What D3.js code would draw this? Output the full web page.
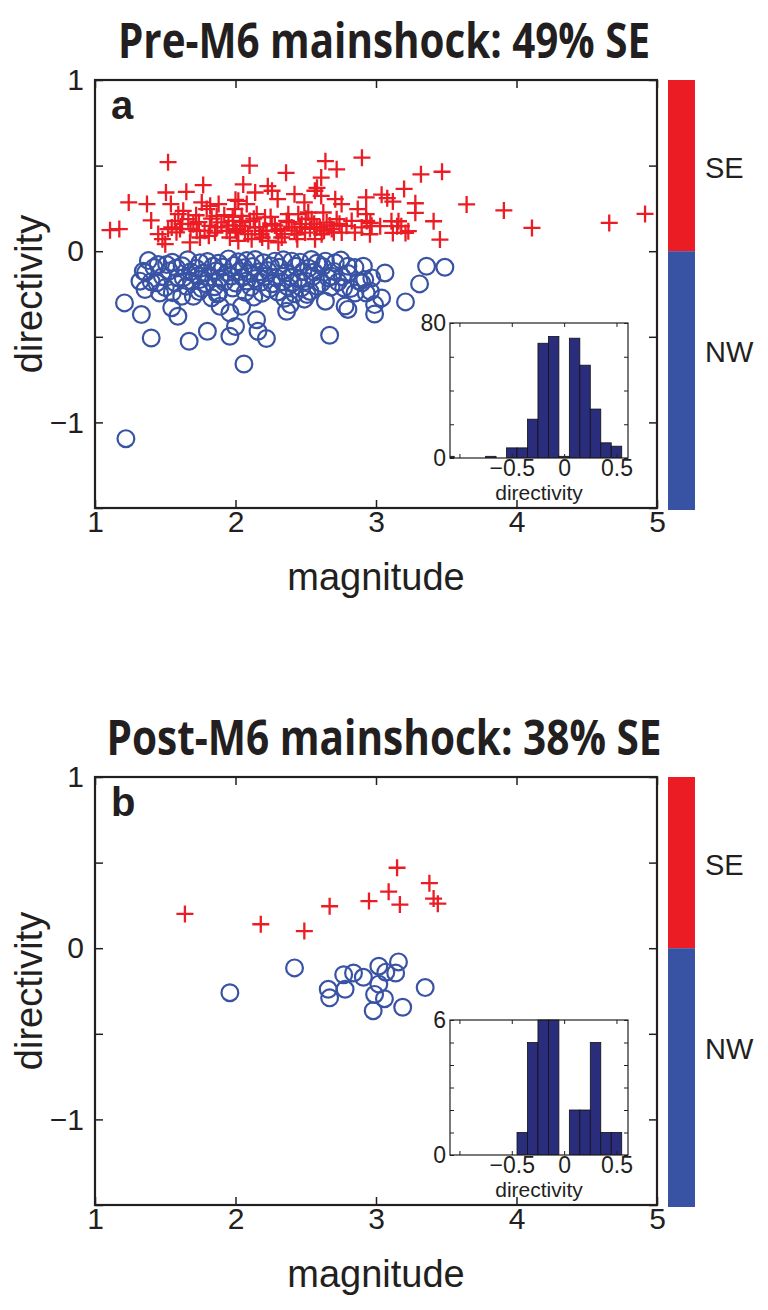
<!DOCTYPE html>
<html><head><meta charset="utf-8">
<script src="https://cdn.jsdelivr.net/npm/d3@7/dist/d3.min.js"></script>
<style>body{margin:0;background:#fff}svg{display:block}</style>
</head><body>
<svg id="chart" width="768" height="1310"></svg>
<script>
// ---------- data (magnitude, directivity) ----------
const preSE = [
[1.107,0.123],[1.173,0.129],[1.52,0.52],[1.24,0.285],[1.37,0.275],[1.40,0.18],[1.505,0.343],[1.54,0.275],[1.65,0.347],[1.77,0.386],
[1.45,0.10],[1.48,0.07],[1.82,0.265],[1.88,0.275],[2.0,0.30],[1.76,0.285],[2.10,0.50],[2.36,0.458],[2.055,0.39],[2.23,0.38],
[2.64,0.526],[2.72,0.478],[2.61,0.43],[2.58,0.37],[2.90,0.546],[2.14,0.343],[2.26,0.353],[2.42,0.333],[2.565,0.353],[2.61,0.323],
[2.71,0.304],[2.93,0.314],[2.02,0.294],[2.08,0.275],[2.30,0.304],[2.49,0.285],[2.755,0.275],[2.87,0.246],[2.93,0.216],[3.32,0.449],
[3.47,0.464],[3.20,0.364],[3.04,0.33],[3.08,0.31],[3.12,0.29],[3.28,0.28],[3.28,0.224],[3.645,0.273],[3.41,0.175],[3.455,0.068],
[2.96,0.165],[3.03,0.146],[3.11,0.175],[3.15,0.146],[3.12,0.107],[3.18,0.146],[3.21,0.107],[3.23,0.117],[3.16,0.175],[3.91,0.238],
[4.11,0.136],[4.66,0.165],[4.915,0.218],
[1.593,0.216],[1.628,0.236],[1.569,0.177],[1.546,0.139],[1.605,0.129],[1.664,0.187],[1.70,0.158],[1.724,0.119],[1.747,0.080],[1.676,0.051],
[1.795,0.246],[1.818,0.148],[1.866,0.206],[1.854,0.109],[1.90,0.168],[1.937,0.119],[1.96,0.08],[1.984,0.177],[1.996,0.246],[2.01,0.109],
[1.52,0.129],[1.50,0.041],
[2.044,0.206],[2.103,0.177],[2.139,0.139],[2.174,0.099],[2.068,0.119],[2.115,0.070],[2.21,0.197],[2.258,0.158],[2.293,0.119],[2.329,0.080],
[2.305,0.051],[2.364,0.177],[2.40,0.139],[2.435,0.099],[2.471,0.158],[2.495,0.109],[2.542,0.187],[2.578,0.139],[2.613,0.099],[2.649,0.168],
[2.685,0.129],[2.72,0.187],[2.756,0.109],[2.79,0.148],[2.827,0.177],[2.85,0.109],[2.898,0.139],[2.934,0.177],[2.957,0.099],[2.969,0.148],
[2.198,0.119],[2.234,0.060],[2.376,0.216],[2.518,0.226],[2.625,0.226],[2.032,0.148],[2.151,0.216],[2.447,0.216],[2.566,0.070],
[1.62,0.16],[1.68,0.13],[1.74,0.17],[1.78,0.12],[1.83,0.19],[1.87,0.14],[1.92,0.21],[1.95,0.15],[2.00,0.13],[2.05,0.17],
[2.09,0.10],[2.13,0.19],[2.17,0.14],[2.22,0.12],[2.25,0.20],[2.28,0.15],[2.32,0.13],[2.35,0.10],[2.38,0.17],[2.42,0.12],
[2.46,0.14],[2.50,0.19],[2.53,0.13],[2.56,0.16],[2.60,0.14],[2.63,0.12],[2.67,0.15],[2.70,0.11],[1.58,0.11],[1.81,0.09],
[1.98,0.20],[2.19,0.08],[2.44,0.07],[2.74,0.16],[1.72,0.21],[2.02,0.06]
];
const preNW = [
[1.40,-0.507],[1.67,-0.526],[1.80,-0.468],[1.96,-0.497],[2.16,-0.468],[2.22,-0.51],[2.06,-0.659],[2.67,-0.491],[1.22,-1.095],[1.344,-0.117],
[1.32,-0.175],[1.356,-0.224],[1.21,-0.302],[1.33,-0.37],[1.45,-0.078],[1.51,-0.078],[1.58,-0.098],[1.44,-0.185],[1.46,-0.244],[1.546,-0.33],
[1.59,-0.38],[1.617,-0.263],[1.70,-0.263],[1.747,-0.068],[1.747,-0.166],[1.89,-0.322],[1.96,-0.36],[2.0,-0.44],[1.88,-0.244],[1.628,-0.156],
[2.044,-0.322],[2.15,-0.40],[2.364,-0.351],[2.39,-0.312],[2.51,-0.253],[2.64,-0.292],[2.58,-0.205],[2.685,-0.146],[2.71,-0.068],[2.80,-0.088],
[2.77,-0.214],[2.80,-0.34],[2.78,-0.32],[2.85,-0.244],[2.90,-0.185],[2.93,-0.244],[2.91,-0.088],[2.28,-0.058],[2.40,-0.058],[2.54,-0.049],
[2.64,-0.058],[2.14,-0.049],[3.064,-0.127],[3.36,-0.088],[3.49,-0.094],[3.31,-0.191],[3.21,-0.296],[3.04,-0.273],[2.96,-0.234],[2.92,-0.166],
[2.97,-0.156],[2.99,-0.312],[2.99,-0.367],
[1.38,-0.055],[1.55,-0.065],[1.66,-0.05],[1.80,-0.06],[1.88,-0.07],[1.95,-0.045],[2.02,-0.062],[2.08,-0.055],[2.20,-0.068],[2.34,-0.05],
[2.46,-0.064],[2.58,-0.07],[2.75,-0.052],
[1.42,-0.095],[1.62,-0.085],[1.72,-0.1],[1.84,-0.088],[1.91,-0.092],[1.99,-0.083],[2.06,-0.097],[2.12,-0.09],[2.25,-0.086],[2.31,-0.094],
[2.43,-0.088],[2.52,-0.1],[2.62,-0.09],[2.85,-0.095],
[1.36,-0.125],[1.53,-0.115],[1.68,-0.12],[1.77,-0.128],[1.86,-0.116],[1.94,-0.124],[2.03,-0.118],[2.10,-0.13],[2.17,-0.12],[2.23,-0.113],
[2.36,-0.126],[2.48,-0.119],[2.56,-0.122],[2.70,-0.118],[2.80,-0.13],
[1.48,-0.148],[1.59,-0.155],[1.73,-0.145],[1.81,-0.152],[1.89,-0.158],[1.97,-0.146],[2.05,-0.153],[2.14,-0.16],[2.21,-0.147],[2.29,-0.155],
[2.39,-0.15],[2.45,-0.162],[2.55,-0.148],[2.66,-0.156],[2.76,-0.15],
[1.40,-0.178],[1.57,-0.185],[1.69,-0.176],[1.79,-0.19],[1.92,-0.18],[2.00,-0.186],[2.08,-0.174],[2.18,-0.182],[2.26,-0.19],[2.33,-0.178],
[2.41,-0.184],[2.50,-0.176],[2.61,-0.188],[2.73,-0.18],[2.88,-0.175],
[1.50,-0.212],[1.65,-0.205],[1.76,-0.218],[1.85,-0.208],[1.98,-0.215],[2.11,-0.21],[2.24,-0.22],[2.37,-0.206],[2.47,-0.214],[2.68,-0.21],
[2.82,-0.218],
[1.55,-0.242],[1.74,-0.236],[1.87,-0.25],[2.07,-0.24],[2.19,-0.245],[2.30,-0.238],[2.42,-0.248],[2.53,-0.235],
[1.83,-0.272],[2.13,-0.268],[2.35,-0.275],[2.49,-0.28]
];
const postSE = [[1.64,0.20],[2.18,0.14],[2.49,0.10],[2.67,0.245],[2.95,0.275],[3.09,0.33],[3.15,0.47],[3.17,0.255],[3.38,0.38],[3.41,0.29],[3.44,0.26]];
const postNW = [[1.96,-0.26],[2.42,-0.115],[2.66,-0.24],[2.67,-0.29],[2.77,-0.155],[2.78,-0.24],[2.84,-0.145],[2.91,-0.17],[3.02,-0.105],[3.02,-0.21],
[2.99,-0.27],[2.98,-0.365],[3.06,-0.295],[3.07,-0.14],[3.14,-0.145],[3.16,-0.08],[3.19,-0.345],[3.35,-0.23]];

// histogram of directivity (bin centres, counts)
const histCentersA = [-1.1,-0.7,-0.5,-0.4,-0.3,-0.2,-0.1,0,0.1,0.2,0.3,0.4,0.5];
const histCountsA  = [1,1,6,6,23,68,72,1,71,55,29,9,7];
const histCentersB = [-0.4,-0.3,-0.2,-0.1,0.1,0.2,0.3,0.4,0.5];
const histCountsB  = [1,5,6,6,2,2,5,1,1];

const titles = ["Pre-M6 mainshock: 49% SE", "Post-M6 mainshock: 38% SE"];
const letters = ["a", "b"];
const xTicks = [1,2,3,4,5];
const yTicks = [-1.5,-1,-0.5,0,0.5,1];
const yLabelTicks = [-1,0,1];
const insetXTicks = [-1,-0.5,0,0.5];
const insetXLabelTicks = [-0.5,0,0.5];
const insetYMax = [80, 6];
const insetYStep = [20, 1];
const colorbarLabels = ["SE","NW"];

// ---------- drawing ----------
const RED = "#ec1c24", BLUE = "#3953a4", BAR = "#2a2d7c";
const svg = d3.select("#chart");
svg.append("rect").attr("width",768).attr("height",1310).attr("fill","#fff");
const fmt = d => d < 0 ? "\u2212" + Math.abs(d) : String(d);

function panel(i, top, se, nw, hc, hn) {
  const g = svg.append("g");
  const L = 95, R = 657, T = top, B = top + 428;
  const x = d3.scaleLinear().domain([1,5]).range([L,R]);
  const y = d3.scaleLinear().domain([-1.5,1]).range([B,T]);

  // title
  g.append("text").attr("x",384).attr("y",top-22).attr("text-anchor","middle")
    .attr("font-family","'Liberation Sans Narrow','Open Sans',sans-serif").attr("font-weight","bold")
    .attr("font-size",48).attr("textLength", i===0?532:555).attr("lengthAdjust","spacingAndGlyphs")
    .attr("fill","#231f20").text(titles[i]);

  // markers
  const clipId = "clip"+i;
  svg.append("clipPath").attr("id",clipId).append("rect").attr("x",L).attr("y",T).attr("width",R-L).attr("height",B-T);
  const mk = g.append("g").attr("clip-path",`url(#${clipId})`);
  mk.selectAll("circle").data(nw).join("circle")
    .attr("cx",d=>x(d[0])).attr("cy",d=>y(d[1])).attr("r",8.4)
    .attr("fill","none").attr("stroke",BLUE).attr("stroke-width",2.2);
  mk.selectAll("path").data(se).join("path")
    .attr("transform",d=>`translate(${x(d[0])},${y(d[1])})`)
    .attr("d","M-8.5,0H8.5M0,-8.5V8.5")
    .attr("stroke",RED).attr("stroke-width",2.3).attr("fill","none");

  // axes (inward ticks)
  const font = "'Liberation Sans',Arial,sans-serif";
  g.append("g").attr("transform",`translate(0,${B})`)
    .call(d3.axisBottom(x).tickValues(xTicks).tickSize(-8).tickPadding(3).tickFormat(fmt));
  g.append("g").attr("transform",`translate(0,${T})`)
    .call(d3.axisTop(x).tickValues(xTicks).tickSize(-8).tickFormat(""));
  g.append("g").attr("transform",`translate(${L},0)`)
    .call(d3.axisLeft(y).tickValues(yTicks).tickSize(-8).tickPadding(11)
      .tickFormat(d => yLabelTicks.includes(d) ? fmt(d) : ""));
  g.append("g").attr("transform",`translate(${R},0)`)
    .call(d3.axisRight(y).tickValues(yTicks).tickSize(-8).tickFormat(""));
  g.selectAll(".domain").remove();
  g.selectAll(".tick line").attr("stroke","#231f20").attr("stroke-width",1.5);
  g.selectAll(".tick text").attr("font-family",font).attr("font-size",30).attr("fill","#231f20");
  g.append("rect").attr("x",L).attr("y",T).attr("width",R-L).attr("height",B-T)
    .attr("fill","none").attr("stroke","#231f20").attr("stroke-width",2.2);

  // axis labels
  g.append("text").attr("x",(L+R)/2).attr("y",B+82).attr("text-anchor","middle")
    .attr("font-family",font).attr("font-size",38).attr("fill","#231f20").text("magnitude");
  g.append("text").attr("transform",`translate(42,${(T+B)/2}) rotate(-90)`).attr("text-anchor","middle")
    .attr("font-family",font).attr("font-size",38).attr("fill","#231f20").text("directivity");

  // panel letter
  g.append("text").attr("x",111).attr("y",T+39).attr("font-family",font).attr("font-weight","bold")
    .attr("font-size",40).attr("fill","#231f20").text(letters[i]);

  // colorbar
  const cb = g.append("g");
  cb.append("rect").attr("x",668).attr("y",T).attr("width",27).attr("height",y(0)-T).attr("fill",RED);
  cb.append("rect").attr("x",668).attr("y",y(0)).attr("width",27).attr("height",B+2-y(0)).attr("fill",BLUE);
  cb.append("text").attr("x",705).attr("y",y(0.5)+12).attr("font-family",font).attr("font-size",29)
    .attr("fill","#231f20").text(colorbarLabels[0]);
  cb.append("text").attr("x",705).attr("y",y(-0.6)+8).attr("font-family",font).attr("font-size",29)
    .attr("fill","#231f20").text(colorbarLabels[1]);

  // inset histogram
  const iL = 450, iR = 628, iT = top + 243, iB = top + 378;
  const hx = d3.scaleLinear().domain([-1.09,0.61]).range([iL,iR]);
  const hy = d3.scaleLinear().domain([0,insetYMax[i]]).range([iB,iT]);
  const ins = g.append("g");
  ins.append("rect").attr("x",iL).attr("y",iT).attr("width",iR-iL).attr("height",iB-iT).attr("fill","#fff");
  const hclip = "hclip"+i;
  svg.append("clipPath").attr("id",hclip).append("rect").attr("x",iL).attr("y",iT-1).attr("width",iR-iL).attr("height",iB-iT+1);
  ins.append("g").attr("clip-path",`url(#${hclip})`).selectAll("rect").data(hc.map((c,k)=>({c, n:hn[k]}))).join("rect")
    .attr("x",d=>hx(d.c-0.05)).attr("width",d=>hx(d.c+0.05)-hx(d.c-0.05))
    .attr("y",d=>hy(d.n)).attr("height",d=>hy(0)-hy(d.n))
    .attr("fill",BAR).attr("stroke","#111").attr("stroke-width",0.8);
  const yIT = d3.range(0, insetYMax[i]+0.001, insetYStep[i]);
  ins.append("g").attr("transform",`translate(0,${iB})`)
    .call(d3.axisBottom(hx).tickValues(insetXTicks).tickSize(-4).tickPadding(2)
      .tickFormat(d => insetXLabelTicks.includes(d) ? fmt(d) : ""));
  ins.append("g").attr("transform",`translate(0,${iT})`)
    .call(d3.axisTop(hx).tickValues(insetXTicks).tickSize(-4).tickFormat(""));
  ins.append("g").attr("transform",`translate(${iL},0)`)
    .call(d3.axisLeft(hy).tickValues(yIT).tickSize(-4).tickPadding(4)
      .tickFormat(d => (d===0 || d===insetYMax[i]) ? d : ""));
  ins.append("g").attr("transform",`translate(${iR},0)`)
    .call(d3.axisRight(hy).tickValues(yIT).tickSize(-4).tickFormat(""));
  ins.selectAll(".domain").remove();
  ins.selectAll(".tick line").attr("stroke","#231f20").attr("stroke-width",1);
  ins.selectAll(".tick text").attr("font-family",font).attr("font-size",23).attr("fill","#231f20");
  ins.append("rect").attr("x",iL).attr("y",iT).attr("width",iR-iL).attr("height",iB-iT)
    .attr("fill","none").attr("stroke","#231f20").attr("stroke-width",1.2);
  ins.append("text").attr("x",(iL+iR)/2).attr("y",iB+42).attr("text-anchor","middle")
    .attr("font-family",font).attr("font-size",21).attr("fill","#231f20").text("directivity");
}

panel(0, 80, preSE, preNW, histCentersA, histCountsA);
panel(1, 777, postSE, postNW, histCentersB, histCountsB);
</script>
</body></html>
